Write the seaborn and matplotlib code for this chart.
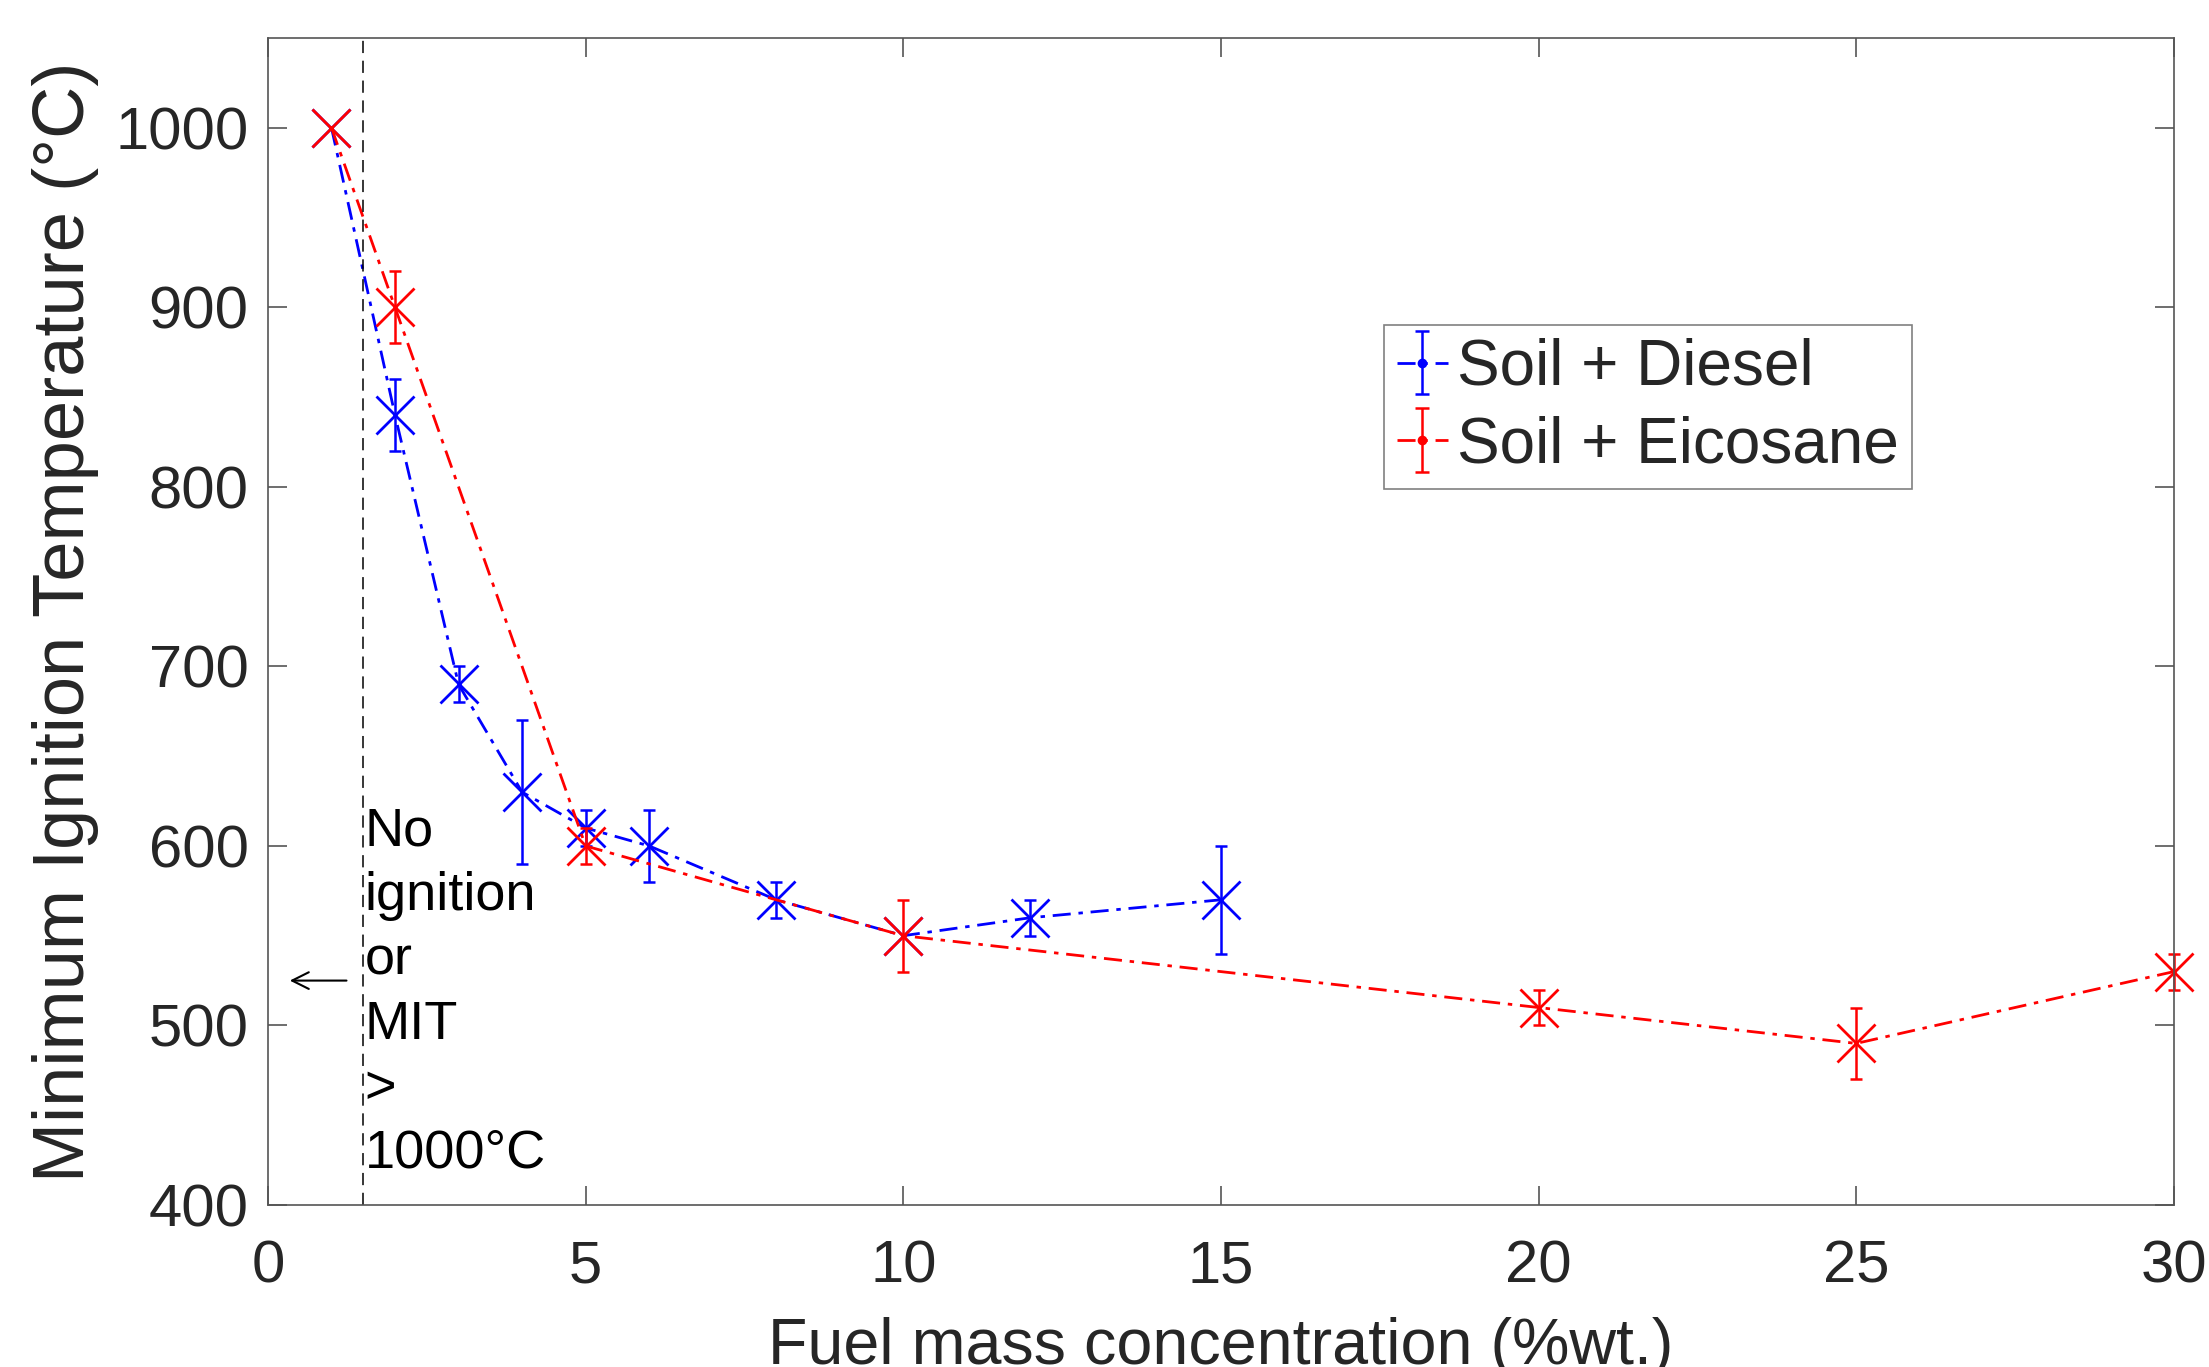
import matplotlib
matplotlib.use("Agg")
import matplotlib.pyplot as plt
import numpy as np
import seaborn as sns

# data
diesel_x = [1, 2, 3, 4, 5, 6, 8, 10, 12, 15]
diesel_y = [1000, 840, 690, 630, 610, 600, 570, 550, 560, 570]
diesel_err = [0, 20, 10, 40, 10, 20, 10, 0, 10, 30]

eico_x = [1, 2, 5, 10, 20, 25, 30]
eico_y = [1000, 900, 600, 550, 510, 490, 530]
eico_err = [0, 20, 10, 20, 10, 20, 10]

x_ticks = [0, 5, 10, 15, 20, 25, 30]
y_ticks = [400, 500, 600, 700, 800, 900, 1000]

sns.set_style("ticks")
plt.rcParams['font.family'] = ['Liberation Sans', 'DejaVu Sans']

fig = plt.figure(figsize=(22.09, 13.67), dpi=100)
ax = fig.add_axes([0.1213, 0.1185, 0.8628, 0.8537])

series = [
    ("Soil + Diesel", diesel_x, diesel_y, diesel_err, (0, 0, 1)),
    ("Soil + Eicosane", eico_x, eico_y, eico_err, (1, 0, 0)),
]
dashdot = (0, (6.5, 2.8, 1.6, 2.8))

handles = []
for name, xs, ys, errs, col in series:
    sns.lineplot(x=xs, y=ys, ax=ax, color=col, linestyle=dashdot, linewidth=2.0,
                 marker='x', markersize=27, markeredgewidth=2.0,
                 markeredgecolor=col, errorbar=None, clip_on=False)
    ex = [x for x, e in zip(xs, errs) if e > 0]
    ey = [y for y, e in zip(ys, errs) if e > 0]
    ee = [e for e in errs if e > 0]
    eb = ax.errorbar(ex, ey, yerr=ee, fmt='none', ecolor=col, elinewidth=1.8,
                     capsize=4, capthick=1.8)
    for art in eb.get_children():
        art.set_clip_on(False)
    # proxy for the legend (dot marker + error bar, as in the original)
    h = ax.errorbar([np.nan], [np.nan], yerr=[1], color=col, marker='.',
                    markersize=12, linestyle=dashdot, linewidth=2.0,
                    capsize=5, capthick=1.8, elinewidth=1.8, label=name)
    handles.append(h)

# threshold line and note
ax.axvline(1.5, color='k', linestyle=(0, (8, 5)), linewidth=1.1)
ax.annotate("", xy=(0.3, 525), xytext=(1.28, 525),
            arrowprops=dict(arrowstyle='->', color='k', lw=1.5,
                            mutation_scale=30))
ax.text(1.52, 622, "No\nignition\nor\nMIT\n>\n1000°C", fontsize=39,
        ha='left', va='top', linespacing=1.37, color='k')

ax.set_xlim(0, 30)
ax.set_ylim(400, 1050)
ax.set_xticks(x_ticks)
ax.set_yticks(y_ticks)
ax.set_xlabel("Fuel mass concentration (%wt.)", fontsize=46.5, color='#262626',
              labelpad=16)
ax.set_ylabel("Minimum Ignition Temperature (°C)", fontsize=52,
              color='#262626', labelpad=12)
ax.tick_params(direction='in', length=14, width=1.2, colors='#555555',
               labelcolor='#262626', labelsize=43, top=True, right=True,
               pad=14)
ax.tick_params(axis='x', pad=25)
for s in ax.spines.values():
    s.set_visible(True)
    s.set_color('#555555')
    s.set_linewidth(1.2)

leg = ax.legend(handles=handles, loc='upper left',
                bbox_to_anchor=(0.5855, 0.754), borderaxespad=0,
                fontsize=46, frameon=True, fancybox=False, framealpha=1,
                edgecolor='#808080', handlelength=0.8, handletextpad=0.15,
                borderpad=0.2, labelspacing=0.28)
leg.get_frame().set_linewidth(1.2)

fig.savefig("out.png", dpi=100)
